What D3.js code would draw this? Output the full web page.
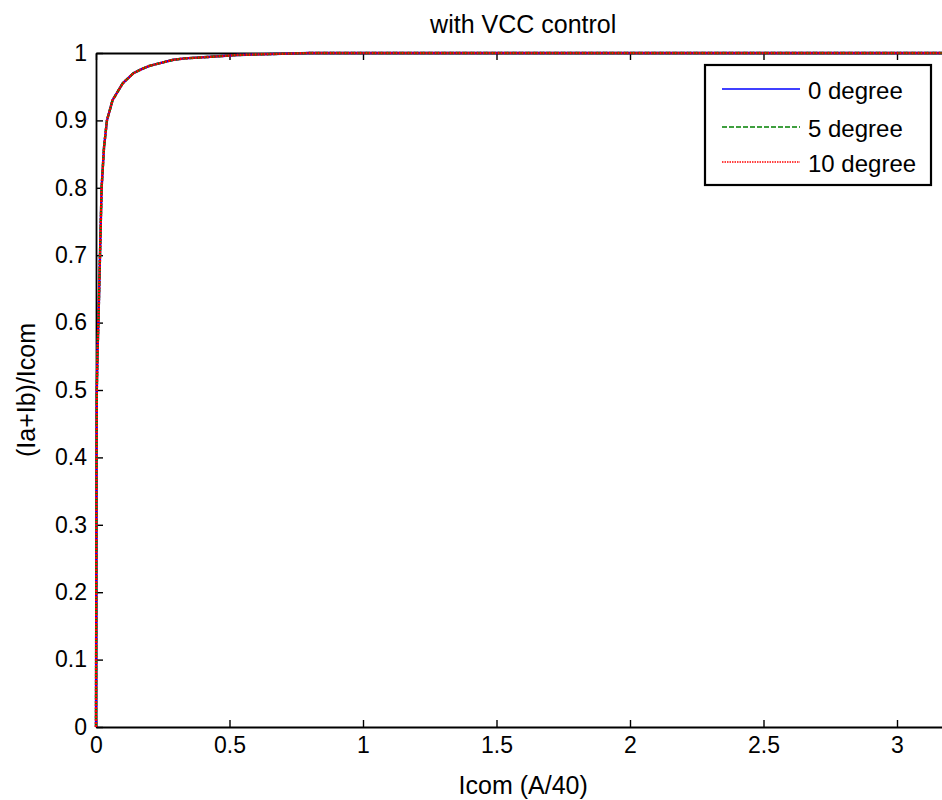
<!DOCTYPE html>
<html>
<head>
<meta charset="utf-8">
<script src="https://cdn.jsdelivr.net/npm/d3@7"></script>
<style>
  body { margin: 0; background: #fff; }
  svg { font-family: "Liberation Sans", Arial, sans-serif; }
</style>
</head>
<body>
<div id="chart"></div>
<script>
// Data (x = Icom, y = (Ia+Ib)/Icom)
const curveX = [0, 0.001, 0.002, 0.003, 0.006, 0.009, 0.015, 0.021, 0.03, 0.041, 0.062, 0.10, 0.14, 0.165, 0.20, 0.24, 0.29, 0.333, 0.416, 0.53, 0.80, 3.2];
const deg0 = [0, 0.2, 0.4, 0.5, 0.56, 0.6, 0.7, 0.8, 0.86, 0.9, 0.93, 0.955, 0.97, 0.975, 0.981, 0.985, 0.99, 0.992, 0.994, 0.997, 1.0, 1.0];
const deg5 = [0, 0.2, 0.4, 0.5, 0.56, 0.6, 0.7, 0.8, 0.86, 0.9, 0.93, 0.955, 0.97, 0.975, 0.981, 0.985, 0.99, 0.992, 0.994, 0.997, 1.0, 1.0];
const deg10 = [0, 0.2, 0.4, 0.5, 0.56, 0.6, 0.7, 0.8, 0.86, 0.9, 0.93, 0.955, 0.97, 0.975, 0.981, 0.985, 0.99, 0.992, 0.994, 0.997, 1.0, 1.0];
const seriesNames = ["0 degree", "5 degree", "10 degree"];
const seriesColors = ["#0000ff", "#008000", "#ff0000"];
const seriesDash = [null, "5,2", "2,1"];
const xTicks = [0, 0.5, 1, 1.5, 2, 2.5, 3];
const yTicks = [0, 0.1, 0.2, 0.3, 0.4, 0.5, 0.6, 0.7, 0.8, 0.9, 1];

const width = 942, height = 800;
const margin = { top: 53, left: 96, bottom: 73 };
const plotRight = 96 + 267 * 3.2; // right spine falls outside the picture

const svg = d3.select("#chart").append("svg")
  .attr("width", width).attr("height", height);

const x = d3.scaleLinear().domain([0, 3.2]).range([margin.left, plotRight]);
const y = d3.scaleLinear().domain([0, 1]).range([height - margin.bottom, margin.top]);

const series = [deg0, deg5, deg10].map((vals, i) => ({
  name: seriesNames[i],
  color: seriesColors[i],
  dash: seriesDash[i],
  values: curveX.map((xv, j) => ({ x: xv, y: vals[j] }))
}));

// axes (ticks point inward, MATLAB style)
const tickLen = 7;
svg.append("g")
  .attr("transform", `translate(0,${y(0)})`)
  .call(d3.axisBottom(x).tickValues(xTicks).tickSizeInner(-tickLen).tickSizeOuter(0).tickPadding(10).tickFormat(d3.format("")))
  .call(g => g.select(".domain").attr("stroke-width", 1.8))
  .call(g => g.selectAll(".tick line").attr("stroke-width", 1.4))
  .call(g => g.selectAll("text").attr("font-size", 23).attr("fill", "#000"));

svg.append("g")
  .attr("transform", `translate(0,${y(1)})`)
  .call(d3.axisTop(x).tickValues(xTicks).tickSizeInner(-tickLen).tickSizeOuter(0).tickFormat(""))
  .call(g => g.select(".domain").attr("stroke-width", 1.8))
  .call(g => g.selectAll(".tick line").attr("stroke-width", 1.4));

svg.append("g")
  .attr("transform", `translate(${x(0)},0)`)
  .call(d3.axisLeft(y).tickValues(yTicks).tickSizeInner(-tickLen).tickSizeOuter(0).tickPadding(9).tickFormat(d3.format("")))
  .call(g => g.select(".domain").attr("stroke-width", 1.8))
  .call(g => g.selectAll(".tick line").attr("stroke-width", 1.4))
  .call(g => g.selectAll("text").attr("font-size", 23).attr("fill", "#000"));

// lines, drawn over the axes
const line = d3.line().x(d => x(d.x)).y(d => y(d.y));
svg.append("g")
  .selectAll("path")
  .data(series)
  .join("path")
  .attr("fill", "none")
  .attr("stroke", d => d.color)
  .attr("stroke-width", 2.4)
  .attr("stroke-dasharray", d => d.dash)
  .attr("d", d => line(d.values));

// titles
svg.append("text")
  .attr("x", (x(0) + plotRight) / 2).attr("y", 33)
  .attr("text-anchor", "middle").attr("font-size", 25)
  .text("with VCC control");

svg.append("text")
  .attr("x", (x(0) + plotRight) / 2).attr("y", 794)
  .attr("text-anchor", "middle").attr("font-size", 25)
  .text("Icom (A/40)");

svg.append("text")
  .attr("transform", `translate(35,${(y(0) + y(1)) / 2}) rotate(-90)`)
  .attr("text-anchor", "middle").attr("font-size", 25)
  .text("(Ia+Ib)/Icom");

// legend
const legend = svg.append("g");
legend.append("rect")
  .attr("x", 705).attr("y", 65).attr("width", 226).attr("height", 120)
  .attr("fill", "#fff").attr("stroke", "#000").attr("stroke-width", 2.2);
const legendY = [89, 127, 162];
series.forEach((s, i) => {
  legend.append("line")
    .attr("x1", 722).attr("x2", 800)
    .attr("y1", legendY[i]).attr("y2", legendY[i])
    .attr("stroke", s.color).attr("stroke-width", 1.4)
    .attr("stroke-dasharray", i === 2 ? "1.5,1" : s.dash);
  legend.append("text")
    .attr("x", 808).attr("y", legendY[i] + 4)
    .attr("dominant-baseline", "middle")
    .attr("font-size", 24)
    .text(s.name);
});
</script>
</body>
</html>
